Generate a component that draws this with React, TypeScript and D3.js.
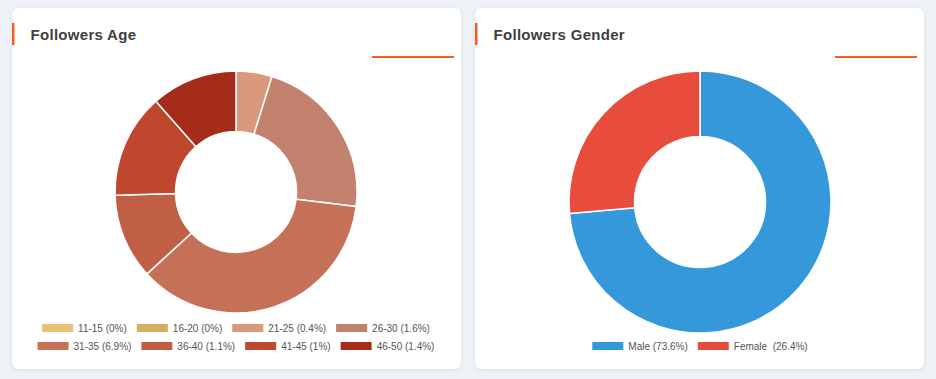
import React, { useEffect, useRef } from "react";
import * as d3 from "d3";

// ---- Data ----
const ageLabels = ["11-15 (0%)", "16-20 (0%)", "21-25 (0.4%)", "26-30 (1.6%)", "31-35 (6.9%)", "36-40 (1.1%)", "41-45 (1%)", "46-50 (1.4%)"];
const ageValues = [0, 0, 4.8, 22.1, 36.2, 11.4, 13.9, 11.5];
const ageColors = ["#e9c170", "#d4ad62", "#da987d", "#c3826d", "#c57157", "#c15f46", "#bf472d", "#a52c19"];

const genderLabels = ["Male (73.6%)", "Female  (26.4%)"];
const genderValues = [73.6, 26.4];
const genderColors = ["#3498db", "#e74c3c"];

const W = 936;
const H = 379;
const FONT = "'Liberation Sans', Arial, Helvetica, sans-serif";

export default function App() {
  const ref = useRef<SVGSVGElement | null>(null);

  useEffect(() => {
    const svg = d3.select(ref.current);
    svg.selectAll("*").remove();

    const defs = svg.append("defs");
    const f = defs.append("filter").attr("id", "sh").attr("x", "-5%").attr("y", "-5%").attr("width", "110%").attr("height", "110%");
    f.append("feDropShadow").attr("dx", 0).attr("dy", 1).attr("stdDeviation", 2).attr("flood-color", "#b8c2cf").attr("flood-opacity", 0.35);

    svg.append("rect").attr("width", W).attr("height", H).attr("fill", "#eef1f5");

    const cards = [
      { x: 12, y: 8, w: 449, h: 361, title: "Followers Age", cx: 236, cy: 192, r: 121, values: ageValues, colors: ageColors, labels: ageLabels, rows: [[0, 1, 2, 3], [4, 5, 6, 7]], legendY: [328, 346] },
      { x: 475, y: 8, w: 449, h: 361, title: "Followers Gender", cx: 700, cy: 202, r: 131, values: genderValues, colors: genderColors, labels: genderLabels, rows: [[0, 1]], legendY: [346] },
    ];

    cards.forEach((c) => {
      const g = svg.append("g");
      g.append("rect").attr("x", c.x).attr("y", c.y).attr("width", c.w).attr("height", c.h).attr("rx", 7).attr("fill", "#fff").attr("filter", "url(#sh)");
      g.append("rect").attr("x", c.x).attr("y", 23).attr("width", 2.5).attr("height", 22).attr("fill", "#fc5a1f");
      g.append("text").attr("x", c.x + 18.5).attr("y", 39.5).attr("font-family", FONT).attr("font-size", 15).attr("font-weight", "bold").attr("letter-spacing", 0.3).attr("fill", "#404040").text(c.title);
      g.append("rect").attr("x", c.x + c.w - 89).attr("y", 56).attr("width", 82).attr("height", 2).attr("fill", "#fc5a1f");

      const pie = d3.pie<number>().sort(null).value((d) => d);
      const arc = d3.arc<d3.PieArcDatum<number>>().innerRadius(c.r * 0.5).outerRadius(c.r);
      const arcs = pie(c.values);
      g.append("g").attr("transform", `translate(${c.cx},${c.cy})`)
        .selectAll("path").data(arcs.filter((a) => a.value > 0)).join("path")
        .attr("d", arc as any)
        .attr("fill", (d) => c.colors[d.index])
        .attr("stroke", "#fff").attr("stroke-width", 1.5).attr("stroke-linejoin", "round");

      // legend
      const sw = 31, sh = 8, tg = 5, ig = 10;
      c.rows.forEach((row, ri) => {
        const lg = g.append("g");
        const items = row.map((i) => {
          const it = lg.append("g");
          it.append("rect").attr("width", sw).attr("height", sh).attr("y", -sh / 2).attr("fill", c.colors[i]);
          const t = it.append("text").attr("x", sw + tg).attr("y", 0).attr("dy", "0.35em")
            .attr("font-family", FONT).attr("font-size", 10).attr("fill", "#555")
            .attr("xml:space", "preserve").style("white-space", "pre").text(c.labels[i]);
          const tw = (t.node() as SVGTextElement).getComputedTextLength();
          return { it, w: sw + tg + tw };
        });
        const total = d3.sum(items, (d) => d.w) + ig * (items.length - 1);
        let x = c.cx - total / 2;
        items.forEach((d) => {
          d.it.attr("transform", `translate(${x},${c.legendY[ri]})`);
          x += d.w + ig;
        });
      });
    });
  }, []);

  return (
    <div style={{ position: "fixed", left: 0, top: 0 }}>
      <svg ref={ref} width={W} height={H} style={{ display: "block" }} />
    </div>
  );
}
